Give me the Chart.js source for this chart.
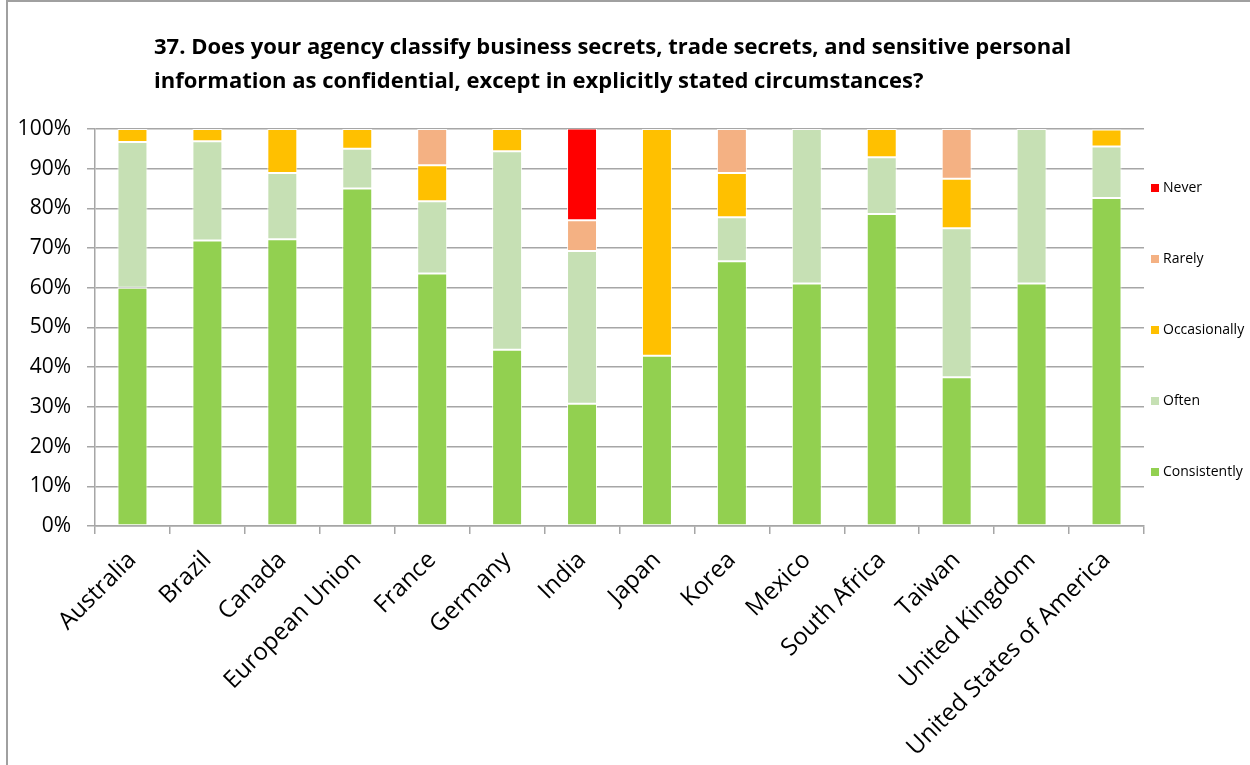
<!DOCTYPE html>
<html>
<head>
<meta charset="utf-8">
<script src="https://cdn.jsdelivr.net/npm/chart.js@4"></script>
<style>
  html, body { margin: 0; padding: 0; background: #ffffff; }
  #wrap { position: relative; width: 1250px; height: 765px; }
</style>
</head>
<body>
<div id="wrap"><canvas id="chart" width="1250" height="765"></canvas></div>
<script>
// Survey question 37 - share of answers per jurisdiction (%)
const titleLines = [
  '37. Does your agency classify business secrets, trade secrets, and sensitive personal',
  'information as confidential, except in explicitly stated circumstances?'
];

const categories = ['Australia', 'Brazil', 'Canada', 'European Union', 'France', 'Germany', 'India',
  'Japan', 'Korea', 'Mexico', 'South Africa', 'Taiwan', 'United Kingdom', 'United States of America'];

const seriesNames = ['Consistently', 'Often', 'Occasionally', 'Rarely', 'Never'];
const seriesColors = ['#92d050', '#c6e0b4', '#ffc000', '#f4b183', '#ff0000'];

const consistently = [60.0, 71.9, 72.2, 85.0, 63.6, 44.4, 30.8, 42.9, 66.7, 61.1, 78.6, 37.5, 61.1, 82.6];
const often        = [36.7, 25.0, 16.7, 10.0, 18.2, 50.0, 38.5, 0, 11.1, 38.9, 14.3, 37.5, 38.9, 13.0];
const occasionally = [3.3, 3.1, 11.1, 5.0, 9.1, 5.6, 0, 57.1, 11.1, 0, 7.1, 12.5, 0, 4.3];
const rarely       = [0, 0, 0, 0, 9.1, 0, 7.7, 0, 11.1, 0, 0, 12.5, 0, 0];
const never        = [0, 0, 0, 0, 0, 0, 23.1, 0, 0, 0, 0, 0, 0, 0];

const yTicks = [0, 10, 20, 30, 40, 50, 60, 70, 80, 90, 100];

const seriesValues = [consistently, often, occasionally, rarely, never];

const gridColor = '#a6a6a6';
const fontFamily = '"Open Sans", Lato, sans-serif';

// title, frame and legend drawn on the canvas
const decorPlugin = {
  id: 'decor',
  afterDraw(chart) {
    const ctx = chart.ctx;
    ctx.save();

    // outer frame (only top and left edges are visible in the picture)
    ctx.strokeStyle = '#a0a0a0';
    ctx.lineWidth = 2;
    ctx.beginPath();
    ctx.moveTo(1250, 1);
    ctx.lineTo(7, 1);
    ctx.lineTo(7, 765);
    ctx.stroke();

    // title
    ctx.fillStyle = '#000000';
    ctx.font = 'bold 22px ' + fontFamily;
    ctx.textAlign = 'left';
    ctx.textBaseline = 'middle';
    titleLines.forEach((line, i) => ctx.fillText(line, 154, 48 + i * 34));

    // legend, reversed so Never sits on top
    ctx.font = '14px ' + fontFamily;
    const ds = chart.data.datasets.slice().reverse();
    ds.forEach((d, i) => {
      const cy = 188 + i * 71;
      ctx.fillStyle = d.backgroundColor;
      ctx.fillRect(1151, cy - 4, 8, 8);
      ctx.fillStyle = '#000000';
      ctx.fillText(d.label, 1163, cy);
    });

    ctx.restore();
  }
};

const datasets = seriesNames.map((name, i) => ({
  label: name,
  data: seriesValues[i].map(v => (v === 0 ? null : v)),
  backgroundColor: seriesColors[i],
  borderColor: 'rgba(255, 255, 255, 0.9)',
  borderWidth: 1,
  borderSkipped: false,
  barPercentage: 0.4,
  categoryPercentage: 1.0
}));

new Chart(document.getElementById('chart'), {
  type: 'bar',
  data: { labels: categories, datasets: datasets },
  plugins: [decorPlugin],
  options: {
    responsive: false,
    animation: false,
    layout: { padding: { top: 129, right: 106, bottom: 0, left: 0 } },
    plugins: {
      legend: { display: false },
      title: { display: false },
      tooltip: { enabled: false }
    },
    scales: {
      x: {
        stacked: true,
        afterFit(scale) { scale.height = 239; },
        grid: {
          offset: true,
          drawOnChartArea: false,
          drawTicks: true,
          tickLength: 8,
          color: gridColor,
          lineWidth: 1.5
        },
        border: { display: true, color: gridColor, width: 1.5 },
        ticks: {
          color: '#000000',
          font: { family: fontFamily, size: 24 },
          maxRotation: 45,
          minRotation: 45,
          autoSkip: false,
          padding: 12
        }
      },
      y: {
        stacked: true,
        min: yTicks[0],
        max: yTicks[yTicks.length - 1],
        afterFit(scale) { scale.width = 95; },
        afterBuildTicks(scale) { scale.ticks = yTicks.map(v => ({ value: v })); },
        grid: {
          color: gridColor,
          lineWidth: 1.5,
          tickLength: 8
        },
        border: { display: true, color: gridColor, width: 1.5 },
        ticks: {
          color: '#000000',
          font: { family: fontFamily, size: 21 },
          padding: 16,
          callback: v => v + '%'
        }
      }
    }
  }
});
</script>
</body>
</html>
